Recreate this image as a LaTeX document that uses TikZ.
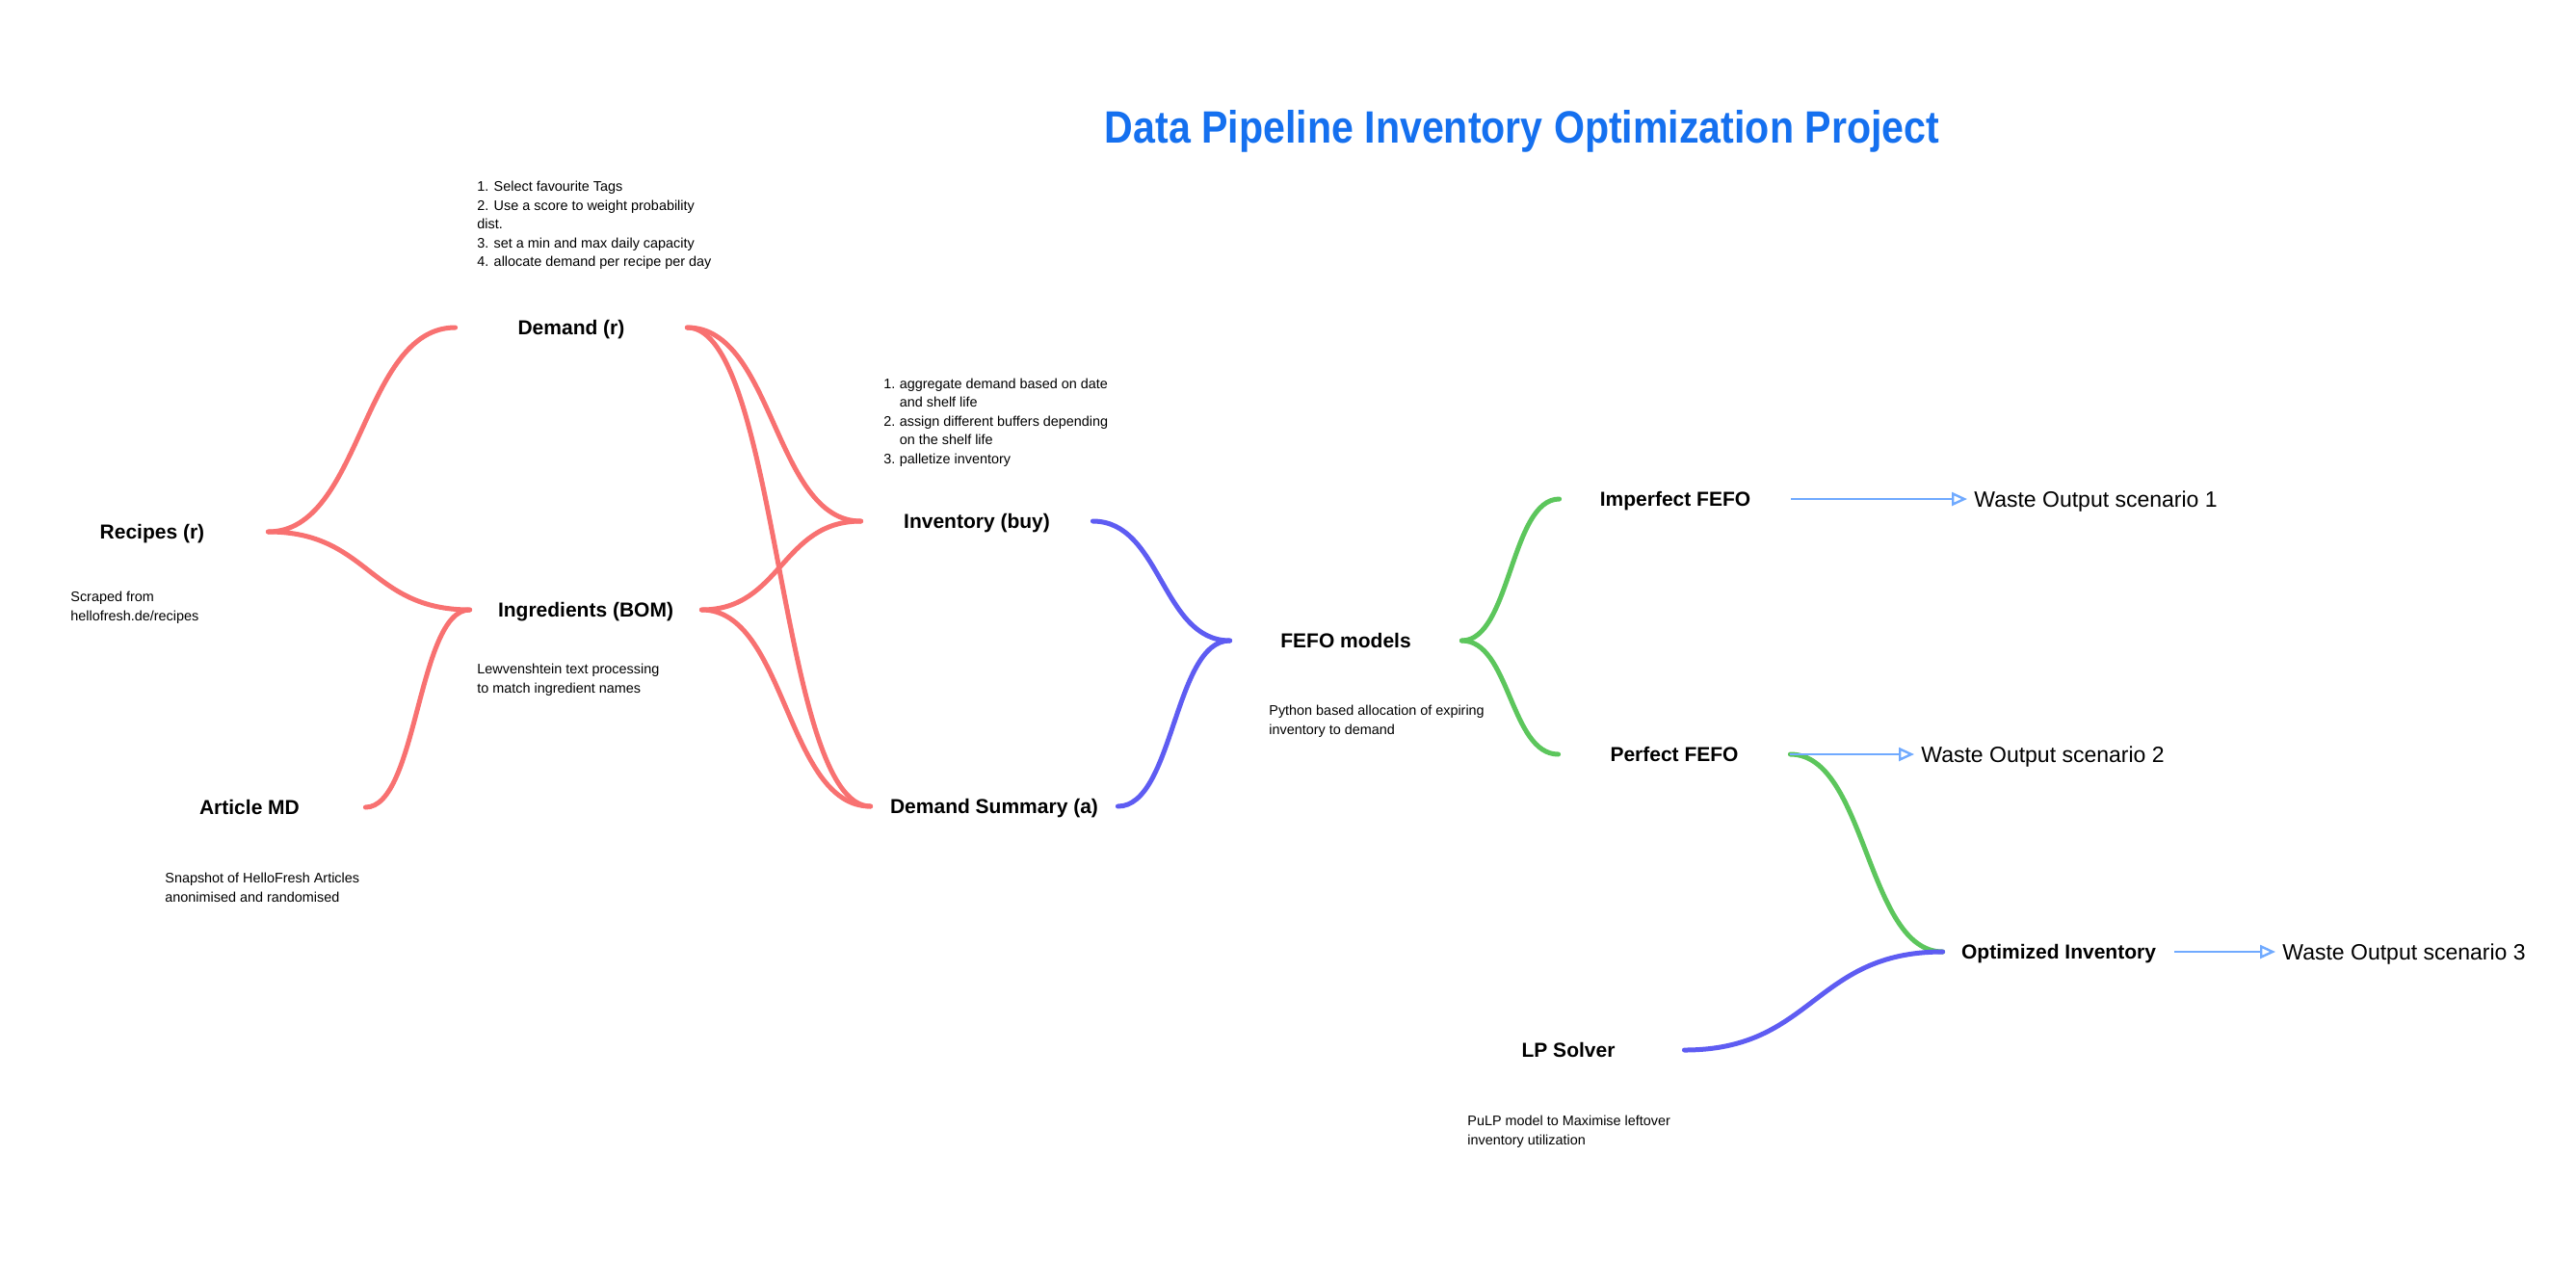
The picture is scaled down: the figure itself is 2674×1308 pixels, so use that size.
\documentclass[tikz,border=0pt]{standalone}
\usepackage{fontspec}
\setmainfont{Liberation Sans}
\usetikzlibrary{arrows.meta,calc}

\definecolor{flowred}{HTML}{F87171}
\definecolor{flowblue}{HTML}{5E5CF2}
\definecolor{flowgreen}{HTML}{5CC65C}
\definecolor{arrowblue}{HTML}{70AAFF}
\definecolor{titleblue}{HTML}{1570EF}

\tikzset{
  % horizontal-tangent S-curve between two anchors
  scurve/.style={to path={
    let \p1=(\tikztostart), \p2=(\tikztotarget) in
    .. controls ({(\x1+\x2)/2},\y1) and ({(\x1+\x2)/2},\y2) .. (\tikztotarget) \tikztonodes}},
}

\begin{document}
\begin{tikzpicture}[x=0.5pt,y=-0.5pt,
  stage/.style={font=\fontsize{10.5}{12}\selectfont\bfseries, minimum width=120pt,
    text height=7.5pt, text depth=0pt, inner sep=0pt},
  note/.style={font=\fontsize{7.2}{9.75}\selectfont, align=left, anchor=north west, inner sep=0pt},
  waste/.style={font=\fontsize{11.5}{13}\selectfont, anchor=west, inner sep=0pt,
    text height=8.2pt, text depth=0pt},
  link/.style={line width=2.5pt, line cap=round, scurve},
  redlink/.style={link, draw=flowred},
  bluelink/.style={link, draw=flowblue},
  greenlink/.style={link, draw=flowgreen},
  outarrow/.style={draw=arrowblue, line width=1.2pt, shorten >=3.5pt,
    -{Triangle[open,length=8pt,width=7pt]}},
]
\useasboundingbox[fill=white] (0,0) rectangle (2674,1308);

% title
\node[font=\fontsize{23.5}{26}\selectfont\bfseries, text=titleblue] (title) at (1580,136)
  {\scalebox{0.875}[1]{Data Pipeline Inventory Optimization Project}};

% pipeline stages
\node[stage] (recipes) at (158,552) {Recipes (r)};
\node[stage] (demand) at (593,340) {Demand (r)};
\node[stage] (ingredients) at (608,633) {Ingredients (BOM)};
\node[stage] (article) at (259,838) {Article MD};
\node[stage] (inventory) at (1014,541) {Inventory (buy)};
\node[stage, minimum width=128pt] (summary) at (1032,837) {Demand Summary (a)};
\node[stage] (fefo) at (1397,665) {FEFO models};
\node[stage] (imperfect) at (1739,518) {Imperfect FEFO};
\node[stage] (perfect) at (1738,783) {Perfect FEFO};
\node[stage] (optimized) at (2137,988) {Optimized Inventory};
\node[stage] (lp) at (1628,1090) {LP Solver};

% outputs
\node[waste] (waste1) at (2049,518) {Waste Output scenario 1};
\node[waste] (waste2) at (1994,783) {Waste Output scenario 2};
\node[waste] (waste3) at (2369,988) {Waste Output scenario 3};

% annotations
\node[note] (demandnote) at (495,188) {1. Select favourite Tags\\2. Use a score to weight probability\\dist.\\3. set a min and max daily capacity\\4. allocate demand per recipe per day};
\node[note] (recipesnote) at (73,614) {Scraped from\\hellofresh.de/recipes};
\node[note] (ingrnote) at (495,689) {Lewvenshtein text processing\\to match ingredient names};
\node[note] (articlenote) at (171,906) {Snapshot of HelloFresh Articles\\anonimised and randomised};
\node[note] (invnote) at (917,389) {%
  \begin{tabular}{@{}r@{\hspace{2.2pt}}l@{}}
  1.& aggregate demand based on date\\
    & and shelf life\\
  2.& assign different buffers depending\\
    & on the shelf life\\
  3.& palletize inventory
  \end{tabular}};
\node[note] (fefonote) at (1317,732) {Python based allocation of expiring\\inventory to demand};
\node[note] (lpnote) at (1523,1158) {PuLP model to Maximise leftover\\inventory utilization};

% data preparation links
\draw[redlink] (recipes.east) to (demand.west);
\draw[redlink] (recipes.east) to (ingredients.west);
\draw[redlink] (article.east) to (ingredients.west);
\draw[redlink] (demand.east) to (inventory.west);
\draw[redlink] (demand.east) to (summary.west);
\draw[redlink] (ingredients.east) to (inventory.west);
\draw[redlink] (ingredients.east) to (summary.west);

% allocation links
\draw[bluelink] (inventory.east) to (fefo.west);
\draw[bluelink] (summary.east) to (fefo.west);
\draw[greenlink] (fefo.east) to (imperfect.west);
\draw[greenlink] (fefo.east) to (perfect.west);
\draw[greenlink] (perfect.east) to (optimized.west);
\draw[bluelink] (lp.east) to (optimized.west);

% waste outputs
\draw[outarrow] (imperfect.east) -- (waste1.west);
\draw[outarrow] (perfect.east) -- (waste2.west);
\draw[outarrow] (optimized.east) -- (waste3.west);
\end{tikzpicture}
\end{document}
